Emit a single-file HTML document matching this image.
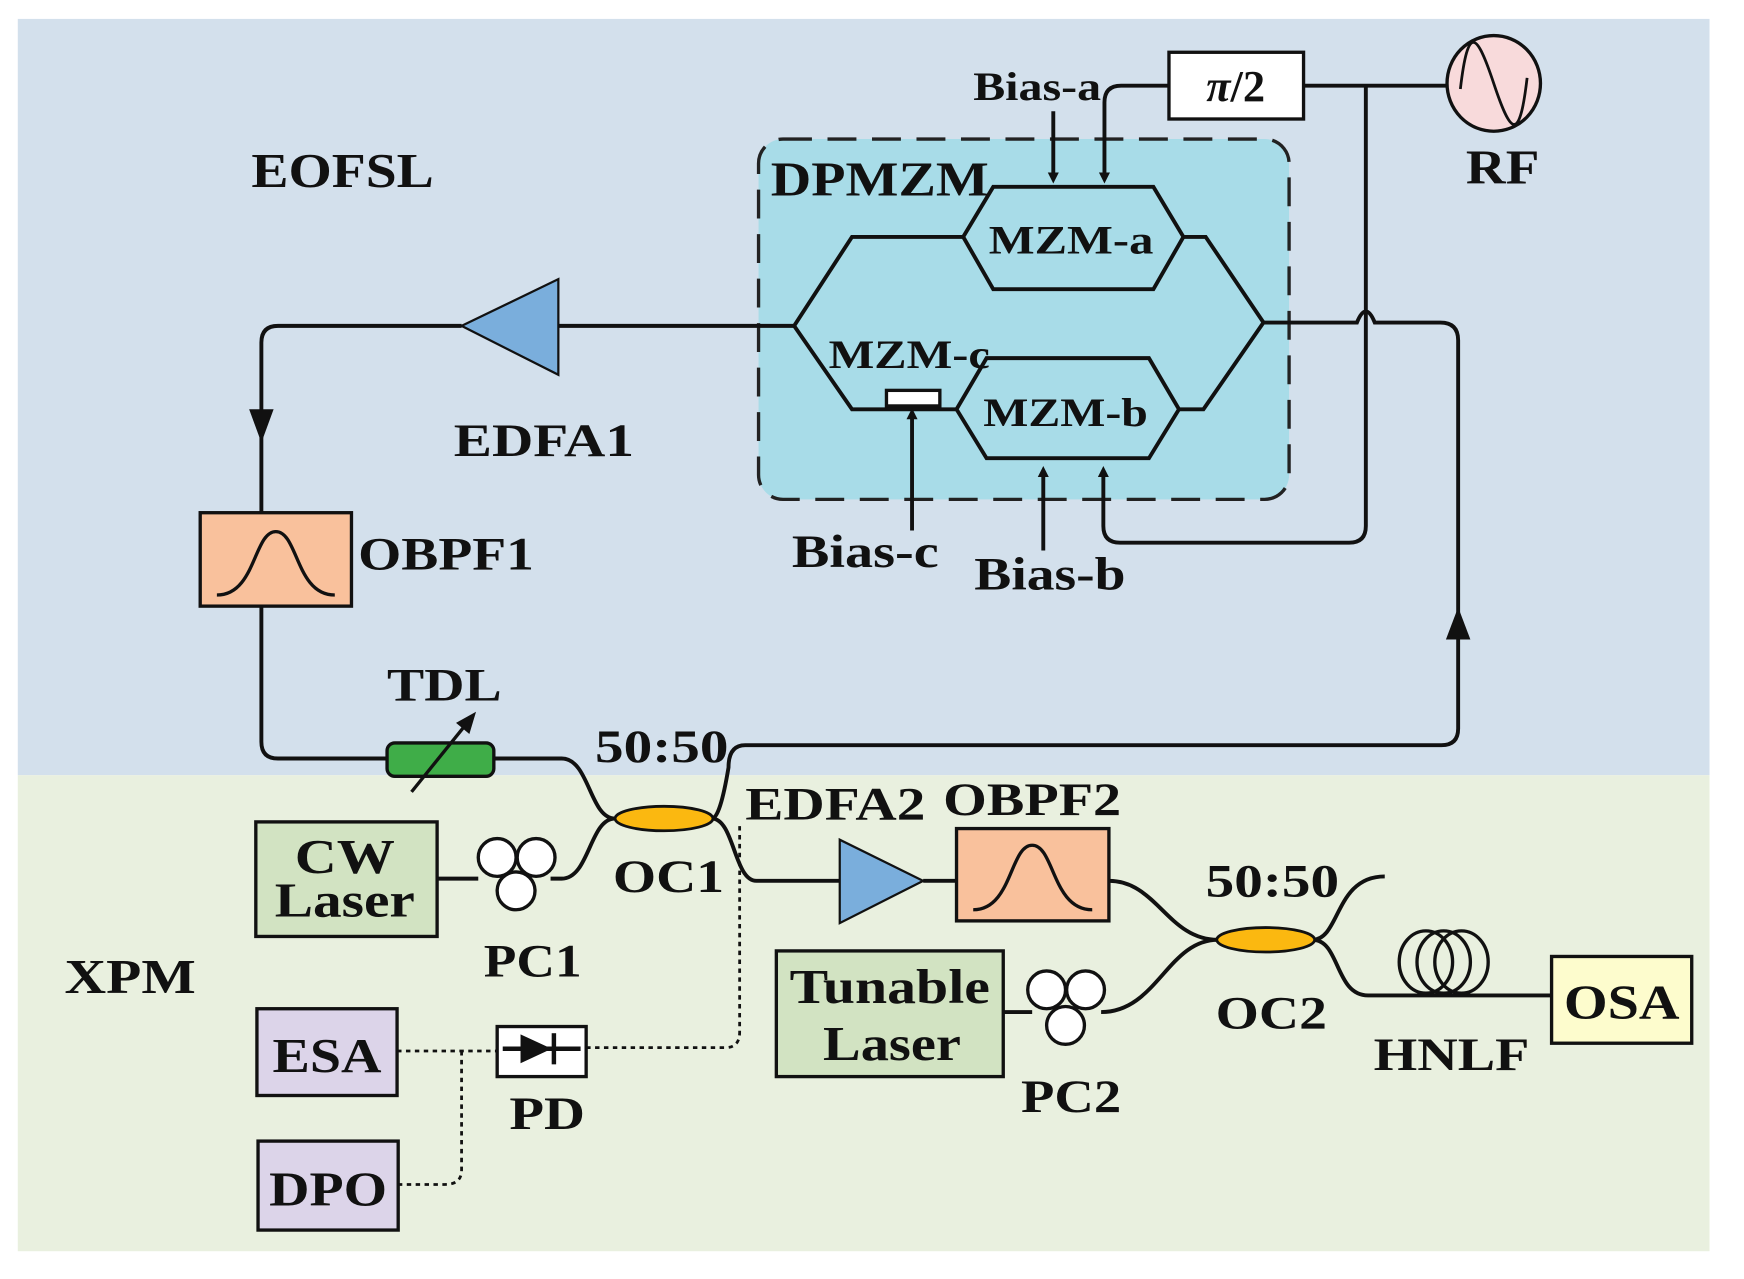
<!DOCTYPE html>
<html><head><meta charset="utf-8"><style>
html,body{margin:0;padding:0;background:#fff;}
svg{display:block;}
text{font-family:"Liberation Serif",serif;font-weight:bold;fill:#111;}
</style></head><body>
<svg width="1744" height="1279" viewBox="0 0 1568 1150" preserveAspectRatio="none" xmlns="http://www.w3.org/2000/svg">
<defs>
<marker id="ah" markerWidth="10" markerHeight="10" refX="5" refY="5" orient="auto" markerUnits="userSpaceOnUse" viewBox="0 0 10 10"><path d="M0,0 L10,5 L0,10 z" fill="#111"/></marker>
</defs>
<rect x="16" y="17" width="1521" height="680" fill="#d3e0ec"/>
<rect x="16" y="697" width="1521" height="428" fill="#e9f0df"/>

<!-- DPMZM -->
<rect x="682" y="125" width="477" height="324" rx="22" fill="#a8dce8" stroke="#222" stroke-width="3" stroke-dasharray="26,14"/>
<text x="693" y="176" font-size="44" textLength="196" lengthAdjust="spacingAndGlyphs">DPMZM</text>
<g fill="none" stroke="#111" stroke-width="3.5">
<polygon points="866,213 893,168 1037,168 1064,213 1037,260 893,260"/>
<polygon points="860,368 887,322 1033,322 1060,368 1033,412 887,412"/>
<polyline points="866,213 766,213 714,293 766,368 860,368"/>
<polyline points="1064,213 1084,213 1136,290 1082,368 1060,368"/>
<path d="M714,293 L500,293"/>
<path d="M415,293 L250,293 Q235,293 235,308 L235,461"/>
<path d="M235,545 L235,667 Q235,682 250,682 L348,682"/>
<path d="M444,682 L505,682 C530,682 530,736 553,736"/>
<path d="M1136,290 L1220,290 Q1228,270 1236,290 L1295,290 Q1311,290 1311,306 L1311,655 Q1311,670 1296,670 L670,670 Q655,670 655,690 C650,720 645,736 640,736"/>
<path d="M393,790 L430,790"/>
<path d="M495,790 L505,790 C530,790 530,736 553,736"/>
<path d="M640,736 C660,736 660,792 680,792 L755,792"/>
<path d="M830,792 L860,792"/>
<path d="M997,792 C1040,792 1050,845 1095,845"/>
<path d="M902,910 L928,910"/>
<path d="M990,910 C1040,910 1050,845 1095,845"/>
<path d="M1180,845 C1205,845 1200,788 1245,788"/>
<path d="M1180,845 C1205,845 1200,895 1230,895 L1395,895"/>
<path d="M1051,77 L1008,77 Q993,77 993,92 L993,160" marker-end="url(#ah)"/>
<path d="M947,100 L947,160" marker-end="url(#ah)"/>
<path d="M1172,77 L1301,77"/>
<path d="M1228,77 L1228,473 Q1228,488 1213,488 L1007,488 Q992,488 992,473 L992,424" marker-end="url(#ah)"/>
<path d="M938,495 L938,424" marker-end="url(#ah)"/>
<path d="M820,477 L820,372" marker-end="url(#ah)"/>
</g>
<!-- arrows on loop -->
<path d="M224,368 L246,368 L235,398 z" fill="#111"/>
<path d="M1300,575 L1322,575 L1311,546 z" fill="#111"/>
<rect x="797" y="351" width="48" height="14" fill="#fff" stroke="#111" stroke-width="3"/>

<text x="963" y="228" font-size="36" text-anchor="middle" textLength="148" lengthAdjust="spacingAndGlyphs">MZM-a</text>
<text x="958" y="383" font-size="36" text-anchor="middle" textLength="148" lengthAdjust="spacingAndGlyphs">MZM-b</text>
<text x="745" y="331" font-size="36" textLength="145" lengthAdjust="spacingAndGlyphs">MZM-c</text>

<!-- EDFA1 -->
<polygon points="415,293 502,251 502,337" fill="#7aaedc" stroke="#111" stroke-width="2"/>
<text x="408" y="410" font-size="42" textLength="162" lengthAdjust="spacingAndGlyphs">EDFA1</text>
<!-- OBPF1 -->
<rect x="180" y="461" width="136" height="84" fill="#f9c19c" stroke="#111" stroke-width="3"/>
<path d="M195,535 C230,535 228,478 248,478 C268,478 266,535 301,535" fill="none" stroke="#111" stroke-width="3"/>
<text x="322" y="512" font-size="42" textLength="158" lengthAdjust="spacingAndGlyphs">OBPF1</text>
<!-- TDL -->
<rect x="348" y="668" width="96" height="30" rx="7" fill="#3fad48" stroke="#111" stroke-width="3"/>
<path d="M370,712 L420,650" stroke="#111" stroke-width="3"/>
<path d="M428,640 L410,650 L422,660 z" fill="#111"/>
<text x="348" y="630" font-size="42" textLength="103" lengthAdjust="spacingAndGlyphs">TDL</text>
<!-- OC1 -->
<ellipse cx="597" cy="736" rx="44" ry="11" fill="#fbb810" stroke="#111" stroke-width="2.5"/>
<text x="535" y="685" font-size="42" textLength="120" lengthAdjust="spacingAndGlyphs">50:50</text>
<text x="551" y="802" font-size="42" textLength="100" lengthAdjust="spacingAndGlyphs">OC1</text>
<!-- CW -->
<rect x="230" y="739" width="163" height="103" fill="#d2e3c2" stroke="#111" stroke-width="3"/>
<text x="310" y="785" font-size="44" text-anchor="middle" textLength="90" lengthAdjust="spacingAndGlyphs">CW</text>
<text x="310" y="824" font-size="44" text-anchor="middle" textLength="126" lengthAdjust="spacingAndGlyphs">Laser</text>
<!-- PC1 -->
<g fill="#fff" stroke="#111" stroke-width="3">
<circle cx="447" cy="771" r="17"/><circle cx="482" cy="771" r="17"/><circle cx="464" cy="801" r="17"/>
<circle cx="941" cy="890" r="17"/><circle cx="976" cy="890" r="17"/><circle cx="958" cy="922" r="17"/>
</g>
<text x="435" y="878" font-size="42" textLength="88" lengthAdjust="spacingAndGlyphs">PC1</text>
<!-- EDFA2 -->
<polygon points="755,755 755,830 830,792" fill="#7aaedc" stroke="#111" stroke-width="2"/>
<text x="670" y="737" font-size="42" textLength="162" lengthAdjust="spacingAndGlyphs">EDFA2</text>
<rect x="860" y="745" width="137" height="83" fill="#f9c19c" stroke="#111" stroke-width="3"/>
<path d="M875,818 C910,818 908,760 928,760 C948,760 946,818 982,818" fill="none" stroke="#111" stroke-width="3"/>
<text x="848" y="733" font-size="42" textLength="160" lengthAdjust="spacingAndGlyphs">OBPF2</text>
<!-- OC2 -->
<ellipse cx="1138" cy="845" rx="44" ry="11" fill="#fbb810" stroke="#111" stroke-width="2.5"/>
<text x="1084" y="806" font-size="42" textLength="120" lengthAdjust="spacingAndGlyphs">50:50</text>
<text x="1093" y="925" font-size="42" textLength="100" lengthAdjust="spacingAndGlyphs">OC2</text>
<!-- HNLF coil -->
<g fill="none" stroke="#111" stroke-width="3">
<ellipse cx="1282" cy="865" rx="24" ry="28"/><ellipse cx="1298" cy="865" rx="24" ry="28"/><ellipse cx="1314" cy="865" rx="24" ry="28"/>
</g>
<text x="1235" y="962" font-size="42" textLength="140" lengthAdjust="spacingAndGlyphs">HNLF</text>
<rect x="1395" y="860" width="126" height="78" fill="#fdfccd" stroke="#111" stroke-width="3"/>
<text x="1458" y="916" font-size="44" text-anchor="middle" textLength="104" lengthAdjust="spacingAndGlyphs">OSA</text>
<!-- Tunable -->
<rect x="698" y="855" width="204" height="113" fill="#d2e3c2" stroke="#111" stroke-width="3"/>
<text x="800" y="902" font-size="44" text-anchor="middle" textLength="180" lengthAdjust="spacingAndGlyphs">Tunable</text>
<text x="802" y="953" font-size="44" text-anchor="middle" textLength="124" lengthAdjust="spacingAndGlyphs">Laser</text>
<text x="918" y="1000" font-size="42" textLength="90" lengthAdjust="spacingAndGlyphs">PC2</text>
<!-- XPM/EOFSL -->
<text x="58" y="893" font-size="44" textLength="118" lengthAdjust="spacingAndGlyphs">XPM</text>
<text x="226" y="168" font-size="44" textLength="164" lengthAdjust="spacingAndGlyphs">EOFSL</text>
<!-- ESA / DPO / PD -->
<rect x="231" y="907" width="126" height="78" fill="#dcd4e9" stroke="#111" stroke-width="3"/>
<text x="294" y="964" font-size="44" text-anchor="middle" textLength="98" lengthAdjust="spacingAndGlyphs">ESA</text>
<rect x="232" y="1026" width="126" height="80" fill="#dcd4e9" stroke="#111" stroke-width="3"/>
<text x="295" y="1084" font-size="44" text-anchor="middle" textLength="106" lengthAdjust="spacingAndGlyphs">DPO</text>
<g fill="none" stroke="#111" stroke-width="2.5" stroke-dasharray="4,4">
<path d="M357,945 L447,945"/>
<path d="M527,942 L652,942 Q665,942 665,928 L665,742"/>
<path d="M415,945 L415,1052 Q415,1065 400,1065 L358,1065"/>
</g>
<rect x="447" y="923" width="80" height="45" fill="#fff" stroke="#111" stroke-width="3"/>
<path d="M452,943 L522,943" stroke="#111" stroke-width="4"/>
<path d="M468,930 L468,956 L496,943 z" fill="#111"/>
<path d="M498,929 L498,957" stroke="#111" stroke-width="4"/>
<text x="458" y="1015" font-size="42" textLength="68" lengthAdjust="spacingAndGlyphs">PD</text>
<!-- Bias / pi2 / RF -->
<text x="875" y="90" font-size="36" textLength="115" lengthAdjust="spacingAndGlyphs">Bias-a</text>
<text x="712" y="510" font-size="42" textLength="132" lengthAdjust="spacingAndGlyphs">Bias-c</text>
<text x="876" y="530" font-size="42" textLength="136" lengthAdjust="spacingAndGlyphs">Bias-b</text>
<rect x="1051" y="47" width="121" height="60" fill="#fff" stroke="#111" stroke-width="3"/>
<text x="1111" y="91" font-size="40" text-anchor="middle" font-style="italic">π<tspan font-style="normal">/2</tspan></text>
<ellipse cx="1343" cy="75" rx="42" ry="43" fill="#f8dadb" stroke="#111" stroke-width="3"/>
<path d="M1313,80 C1320,20 1328,30 1343,75 C1358,120 1366,130 1373,70" fill="none" stroke="#111" stroke-width="2.5"/>
<text x="1318" y="165" font-size="44" textLength="66" lengthAdjust="spacingAndGlyphs">RF</text>
</svg>
</body></html>
